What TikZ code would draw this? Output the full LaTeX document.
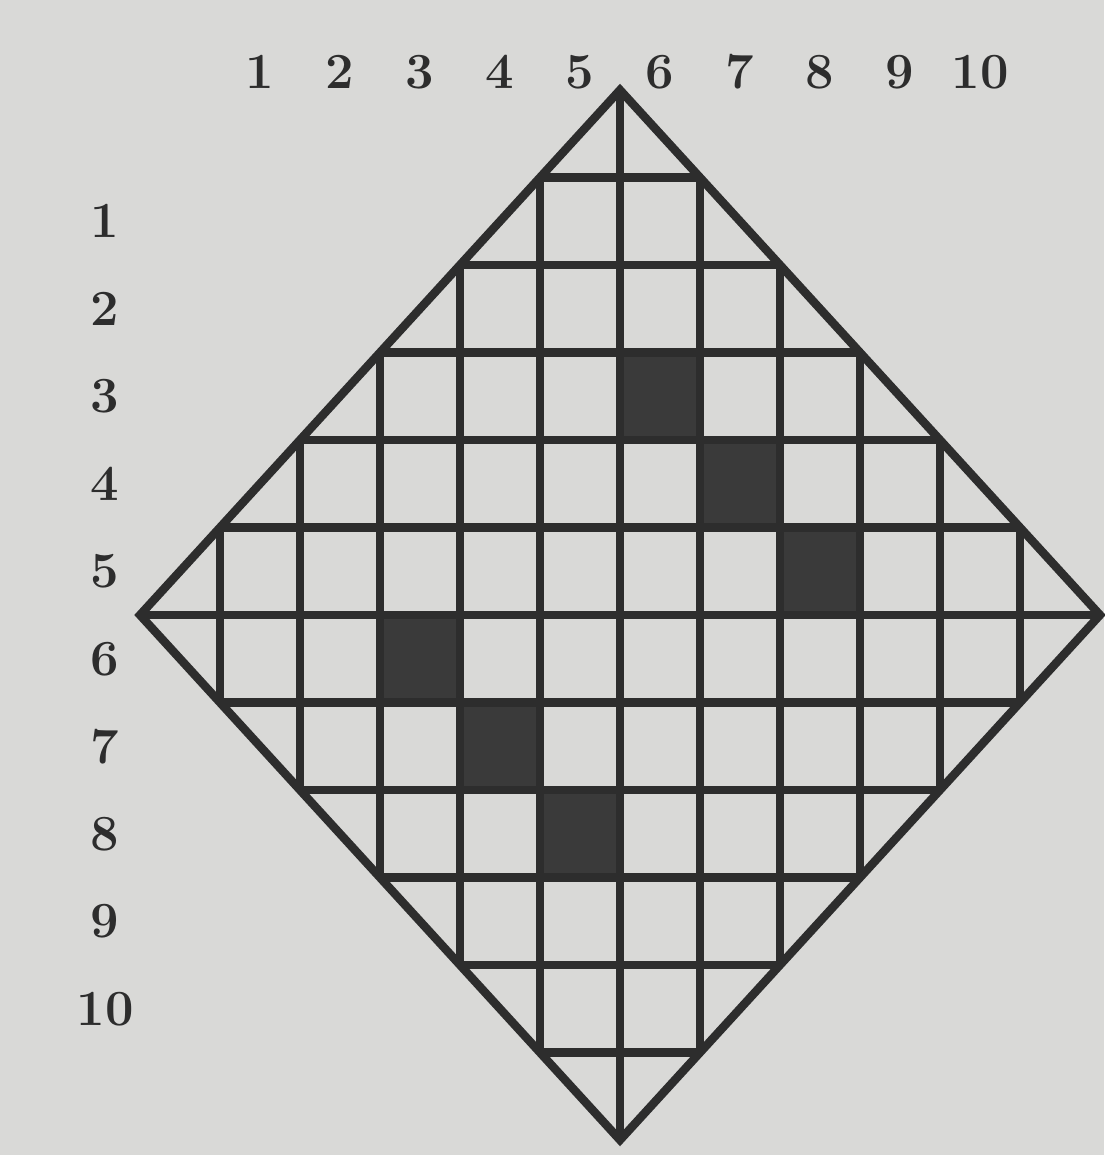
\documentclass[tikz,border=0pt]{standalone}
\definecolor{paper}{RGB}{217,217,215}
\definecolor{ink}{RGB}{45,45,45}
\definecolor{cellfill}{RGB}{58,58,58}
\tikzset{
  gridline/.style={ink,line width=2.4pt},
  numlabel/.style={ink,font=\Large\bfseries,inner sep=0pt}
}
\begin{document}
\begin{tikzpicture}[x=0.01cm,y=-0.01cm]
  \fill[paper] (0,0) rectangle (1104,1155);
  % corners of the diamond
  \coordinate (T) at (620,90);
  \coordinate (R) at (1100,615);
  \coordinate (B) at (620,1140);
  \coordinate (L) at (140,615);
  \begin{scope}
    \clip (T)--(R)--(B)--(L)--cycle;
    % the six black squares
    \foreach \i/\j in {0/-3,1/-2,2/-1,-3/0,-2/1,-1/2}
      \fill[cellfill] (620+80*\i,615+87.5*\j) rectangle +(80,87.5);
    \foreach \k in {-5,...,5} {
      \draw[gridline] (620+80*\k,0)--(620+80*\k,1155);
      \draw[gridline] (0,615+87.5*\k)--(1104,615+87.5*\k);
    }
  \end{scope}
  \draw[gridline,line join=miter] (T)--(R)--(B)--(L)--cycle;
  % numbers along the top and down the left
  \foreach \n in {1,...,10} {
    \node[numlabel] (top\n) at (180+80*\n,72) {\n};
    \node[numlabel] (left\n) at (105,133.75+87.5*\n) {\n};
  }
\end{tikzpicture}
\end{document}
